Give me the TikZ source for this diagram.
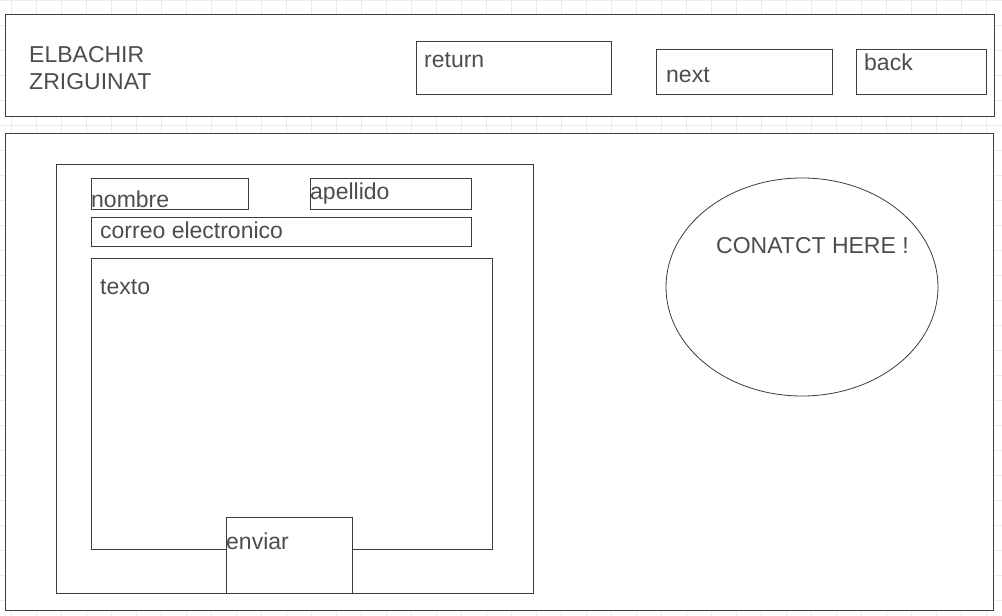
\documentclass[tikz,border=0pt]{standalone}
\usepackage{fontspec}
\setmainfont{Liberation Sans}
\definecolor{linegray}{HTML}{3C3C3C}
\definecolor{textgray}{HTML}{4D4D4D}
\definecolor{gridgray}{HTML}{EBEBEB}
\tikzset{
  box/.style={draw=linegray, line width=1.1pt, fill=white, anchor=north west, inner sep=0pt},
  txt/.style={text=textgray, anchor=base west, inner sep=0pt, align=left,
    font=\fontsize{23}{27}\selectfont},
  gridline/.style={draw=gridgray, line width=0.8pt}
}
\begin{document}
\begin{tikzpicture}[x=1pt,y=-1pt]
      \useasboundingbox[fill=white] (0,0) rectangle (1002,616);
      % background grid
      \foreach \x in {11.7,36.7,...,1002}
        \draw[gridline] (\x,0) -- (\x,616);
      \foreach \y in {0,25,...,616}
        \draw[gridline] (0,\y) -- (1002,\y);
      % header
      \node[box, minimum width=989, minimum height=102] (header) at (5,14) {};
      \node[txt] (name) at (29,89) {ELBACHIR\\ZRIGUINAT};
      \node[box, minimum width=195, minimum height=53] (return) at (416,41) {};
      \node[txt] (returntxt) at (424,67) {return};
      \node[box, minimum width=176, minimum height=45] (next) at (656,49) {};
      \node[txt] (nexttxt) at (666,82) {next};
      \node[box, minimum width=130, minimum height=45] (back) at (856,49) {};
      \node[txt] (backtxt) at (864,70) {back};
      % main area
      \node[box, minimum width=988, minimum height=477] (main) at (5,133) {};
      \node[box, minimum width=477, minimum height=429] (form) at (56,164) {};
      \node[box, minimum width=157, minimum height=31] (nombre) at (91,178) {};
      \node[txt] (nombretxt) at (91,207) {nombre};
      \node[box, minimum width=161, minimum height=31] (apellido) at (310,178) {};
      \node[txt] (apellidotxt) at (310,199) {apellido};
      \node[box, minimum width=380, minimum height=29] (correo) at (91,217) {};
      \node[txt] (correotxt) at (100,238) {correo electronico};
      \node[box, minimum width=401, minimum height=291] (texto) at (91,258) {};
      \node[txt] (textotxt) at (100,294) {texto};
      \node[box, minimum width=126, minimum height=76] (enviar) at (226,517) {};
      \node[txt] (enviartxt) at (226,549) {enviar};
      % contact bubble
      \draw[draw=linegray, line width=0.8pt, fill=white] (802,287) ellipse [x radius=136, y radius=109];
      \node[txt] (contact) at (716,253) {CONATCT HERE !};
    \end{tikzpicture}
\end{document}
